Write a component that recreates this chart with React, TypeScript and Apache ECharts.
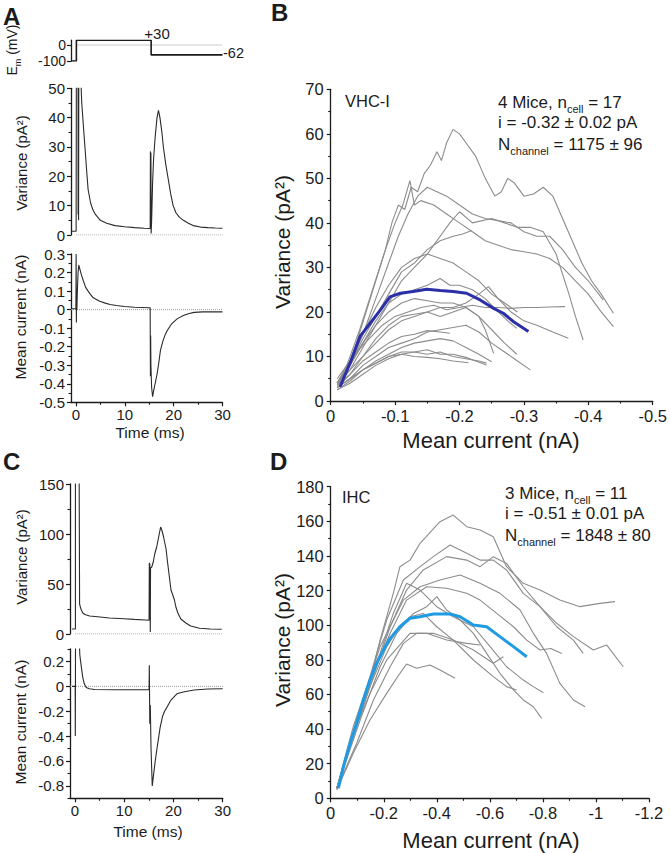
import React, { useEffect, useRef } from "react";
import * as echarts from "echarts";

const FONT = '"Liberation Sans", Arial, Helvetica, sans-serif';
const INK = "#1b1b1b";
const GREY = "#8c8c8c";

// ---------------- Panel A (VHC-I example cell) ----------------
const protocolA = [[-1, -100], [0.1, -100], [0.1, 30], [15.4, 30], [15.4, -62], [30, -62]];
const varianceA = [
  [-0.8, 1.3], [0.05, 1.3], [0.1, 1.5], [0.1, 60], [0.45, 60], [0.45, 7], [0.5, 20], [0.55, 5], [0.6, 60], [0.85, 60],
  [1.2, 45], [1.5, 38], [1.85, 30], [2.2, 22], [2.5, 15.5], [3, 11], [3.5, 8.5], [4, 7], [5, 5], [6.3, 4], [8, 3.2],
  [10, 2.8], [12, 2.5], [14, 2.3], [15.2, 2.2], [15.25, 28.5], [15.3, 24], [15.35, 28], [15.4, 0.5], [15.5, 5],
  [15.7, 18], [15.9, 26], [16.2, 33], [16.6, 40], [16.9, 42.5], [17.2, 40], [17.6, 35], [17.9, 30], [18.4, 24],
  [18.9, 19], [19.4, 14], [19.9, 10], [20.5, 7.5], [21.2, 6], [22, 5], [23, 4], [24, 3.2], [25.5, 2.7], [27, 2.5],
  [28.5, 2.4], [30, 2.3],
];
const currentA = [
  [-0.8, 0.005], [0, 0.005], [0.05, 0.3], [0.1, -0.07], [0.15, 0.1], [0.2, 0.0], [0.3, 0.1], [0.45, 0.2], [0.6, 0.24],
  [0.8, 0.22], [1.1, 0.19], [1.5, 0.157], [2, 0.12], [2.5, 0.1], [2.9, 0.085], [3.5, 0.065], [4.2, 0.055], [4.9, 0.045],
  [6, 0.035], [7, 0.028], [8.3, 0.022], [10, 0.017], [12, 0.013], [14.9, 0.01], [15.2, 0.01], [15.25, -0.36],
  [15.3, -0.14], [15.35, -0.3], [15.5, -0.42], [15.7, -0.47], [15.9, -0.44], [16.2, -0.4], [16.6, -0.35], [17, -0.28],
  [17.3, -0.22], [17.8, -0.17], [18.2, -0.14], [18.7, -0.113], [19.5, -0.08], [20.7, -0.05], [22, -0.032],
  [23, -0.022], [24.2, -0.015], [26, -0.012], [28, -0.012], [30, -0.012],
];

// ---------------- Panel C (IHC example cell) ----------------
const varianceC = [
  [-0.6, 5], [0.1, 5], [0.1, 170], [0.85, 170], [0.95, 30], [1.1, 27], [1.3, 24], [1.6, 21], [2, 19.5], [3, 18],
  [4.6, 17.3], [7, 16], [10, 15.2], [12, 14.6], [14.3, 14], [15.05, 13.8], [15.1, 71], [15.2, 70], [15.3, 2],
  [15.35, 66], [15.6, 67], [15.9, 72], [16.2, 80], [16.6, 87], [17, 97], [17.4, 107], [17.7, 103], [18, 97],
  [18.5, 85], [18.8, 72], [19.1, 60], [19.5, 44], [19.8, 40], [20.2, 34], [20.5, 27], [20.9, 21], [21.5, 15],
  [22.6, 10.7], [23.5, 8], [25.3, 5.7], [27.5, 5], [29.8, 4.7],
];
const currentC = [
  [-0.6, 0], [0.05, 0], [0.08, -0.4], [0.12, 0.35], [0.9, 0.35], [1.0, 0.25], [1.3, 0.156], [1.6, 0.07], [1.9, 0.02],
  [2.3, -0.01], [2.9, -0.02], [4, -0.025], [8.3, -0.028], [15.05, -0.028], [15.1, 0.17], [15.2, -0.3], [15.3, -0.15],
  [15.45, -0.5], [15.7, -0.8], [16, -0.7], [16.3, -0.6], [16.6, -0.516], [17, -0.41], [17.3, -0.33], [17.8, -0.24],
  [18.2, -0.2], [18.7, -0.167], [19.5, -0.11], [20.7, -0.06], [22, -0.045], [24.2, -0.03], [27, -0.022], [30, -0.02],
];

// ---------------- Panel B (VHC-I, variance vs mean current) ----------------
const b1 = [[-0.012,4],[-0.025,7],[-0.04,13],[-0.055,20],[-0.07,27],[-0.085,34],[-0.095,40],[-0.105,44],[-0.115,43],[-0.125,48],[-0.135,47],[-0.145,51],[-0.155,53],[-0.165,56],[-0.172,54],[-0.18,58],[-0.19,61],[-0.2,60],[-0.21,58],[-0.225,55],[-0.24,50],[-0.255,46],[-0.265,47],[-0.275,50],[-0.285,49],[-0.3,46],[-0.315,46.5],[-0.33,48],[-0.345,46],[-0.36,41],[-0.375,36],[-0.39,31],[-0.405,27],[-0.42,24],[-0.439,19.7]];
const b2 = [[-0.01,4],[-0.03,8],[-0.05,15],[-0.07,23],[-0.09,31],[-0.105,37],[-0.12,42],[-0.135,46],[-0.15,48],[-0.165,47],[-0.18,46],[-0.2,44],[-0.22,42],[-0.24,41],[-0.26,40.5],[-0.28,40],[-0.3,38],[-0.32,37],[-0.34,37],[-0.36,34],[-0.38,30],[-0.4,27],[-0.423,22.7]];
const b3 = [[-0.01,4],[-0.025,8],[-0.045,16],[-0.065,25],[-0.085,34],[-0.1,40],[-0.112,44],[-0.123,49.5],[-0.13,44],[-0.14,45],[-0.16,44],[-0.18,42],[-0.2,40],[-0.22,38],[-0.24,36],[-0.26,35],[-0.28,34],[-0.3,33.5],[-0.32,33],[-0.34,32],[-0.36,30],[-0.38,27],[-0.4,24],[-0.42,20],[-0.439,16.7]];
const b4 = [[-0.01,4],[-0.03,8],[-0.05,14],[-0.07,19],[-0.09,24],[-0.11,29],[-0.13,31],[-0.15,34],[-0.17,36],[-0.19,37],[-0.205,37.5],[-0.219,38.3]];
const b5 = [[-0.01,4],[-0.03,7],[-0.05,12],[-0.07,17],[-0.09,22],[-0.11,27],[-0.13,30],[-0.15,33],[-0.17,37],[-0.185,40],[-0.2,42.5],[-0.22,40],[-0.25,41],[-0.27,40],[-0.29,39],[-0.31,39],[-0.33,38],[-0.35,33],[-0.37,24],[-0.38,19],[-0.392,13.7]];
const b6 = [[-0.01,5],[-0.025,8],[-0.04,11],[-0.06,14],[-0.08,17],[-0.1,19],[-0.12,20],[-0.14,21],[-0.16,21.5],[-0.18,20.5],[-0.2,21],[-0.22,21.5],[-0.24,21],[-0.26,21],[-0.28,20.8],[-0.3,21],[-0.32,21],[-0.34,21.1],[-0.364,21.2]];
const b7 = [[-0.01,4],[-0.03,8],[-0.05,13],[-0.07,18],[-0.09,22],[-0.11,24],[-0.13,25],[-0.15,26],[-0.17,27.5],[-0.185,26],[-0.2,26],[-0.22,25],[-0.24,23],[-0.26,20],[-0.275,18],[-0.289,16.3]];
const b8 = [[-0.01,3.5],[-0.03,7],[-0.05,10],[-0.07,13],[-0.09,16],[-0.11,18],[-0.13,19],[-0.15,20],[-0.17,21],[-0.19,21],[-0.21,22],[-0.23,24],[-0.245,25.7],[-0.26,23],[-0.28,20],[-0.3,18],[-0.32,17],[-0.345,15.5],[-0.369,14.1]];
const b9 = [[-0.01,3.5],[-0.03,6],[-0.05,10],[-0.07,14],[-0.09,17],[-0.11,19],[-0.13,19.5],[-0.15,20],[-0.17,19],[-0.19,20],[-0.21,21],[-0.23,19],[-0.25,16],[-0.27,13],[-0.289,10.5]];
const b10 = [[-0.01,3],[-0.03,5],[-0.05,8],[-0.07,10],[-0.09,12],[-0.11,13],[-0.13,14],[-0.15,15.5],[-0.17,16],[-0.19,16.5],[-0.21,17],[-0.23,15.5],[-0.25,13],[-0.27,11],[-0.29,9],[-0.31,7]];
const b11 = [[-0.01,3],[-0.03,5],[-0.05,7],[-0.07,9],[-0.09,10.5],[-0.11,12],[-0.13,13],[-0.15,13.5],[-0.17,14],[-0.19,13.5],[-0.21,12],[-0.23,10.5],[-0.25,8.8]];
const b12 = [[-0.01,3],[-0.03,5],[-0.05,7],[-0.07,8.5],[-0.09,10],[-0.11,11],[-0.13,11],[-0.15,11.5],[-0.17,10.5],[-0.19,10.5],[-0.21,9.8],[-0.225,9],[-0.242,8.1]];
const b13 = [[-0.01,2.5],[-0.03,4.5],[-0.05,7],[-0.07,8.5],[-0.09,10],[-0.11,10.5],[-0.13,10],[-0.15,9.8],[-0.17,9.5],[-0.19,9],[-0.214,8.6]];
const b14 = [[-0.01,3],[-0.03,6],[-0.05,9],[-0.07,11],[-0.09,13],[-0.11,14.5],[-0.13,15],[-0.15,15.8],[-0.17,15.5],[-0.185,15.2]];
const b15 = [[-0.01,4],[-0.03,8],[-0.05,13],[-0.07,17],[-0.09,20],[-0.11,22],[-0.13,23],[-0.15,22.5],[-0.17,22],[-0.19,22],[-0.21,21],[-0.23,19],[-0.24,16],[-0.253,10.7]];
const b16 = [[-0.01,4],[-0.03,9],[-0.05,15],[-0.07,21],[-0.09,26],[-0.11,30],[-0.13,32],[-0.15,33],[-0.17,32],[-0.19,31],[-0.21,29],[-0.23,27],[-0.25,24],[-0.27,22],[-0.29,20]];
const b17 = [[-0.01,2.5],[-0.03,4],[-0.05,6],[-0.07,8],[-0.09,9.5],[-0.11,10.5],[-0.13,11],[-0.15,10.5],[-0.17,11],[-0.19,10],[-0.21,9.5],[-0.23,9],[-0.242,8.5]];
const bCells = [b1, b2, b3, b4, b5, b6, b7, b8, b9, b10, b11, b12, b13, b14, b15, b16, b17];
const bMean = [[-0.0145,3.2],[-0.03,8.5],[-0.0455,14.5],[-0.061,17.4],[-0.077,20.4],[-0.092,23.4],[-0.108,24.2],[-0.128,24.6],[-0.149,25.1],[-0.17,24.8],[-0.19,24.6],[-0.211,24.2],[-0.232,22.7],[-0.253,20.8],[-0.268,19.7],[-0.284,17.8],[-0.307,15.6]];

// ---------------- Panel D (IHC, variance vs mean current) ----------------
const d1 = [[-0.023,5.8],[-0.073,31.8],[-0.136,60.6],[-0.186,91.4],[-0.236,118.4],[-0.261,133.8],[-0.299,137.6],[-0.337,147.3],[-0.412,159.8],[-0.462,163.6],[-0.513,156.9],[-0.563,155],[-0.613,151.1],[-0.663,133.8],[-0.726,124.2],[-0.789,120.3],[-0.864,114.5],[-0.94,110.7],[-1.015,112.6],[-1.072,113.6]];
const d2 = [[-0.023,5.8],[-0.085,37.5],[-0.148,70.3],[-0.211,103],[-0.274,126.1],[-0.337,133.8],[-0.387,139.6],[-0.45,146.3],[-0.513,141.5],[-0.563,137.6],[-0.613,137.6],[-0.663,131.9],[-0.726,118.4],[-0.789,110.7],[-0.852,101.1],[-0.915,93.4],[-0.99,85.7],[-1.04,88.6],[-1.103,76]];
const d3 = [[-0.023,5.8],[-0.098,41.4],[-0.161,70.3],[-0.224,99.1],[-0.286,120.3],[-0.349,131.9],[-0.437,139.6],[-0.513,137.6],[-0.563,133.8],[-0.613,139.6],[-0.663,135.7],[-0.726,122.2],[-0.789,110.7],[-0.852,99.1],[-0.915,91.4],[-0.952,83.7]];
const d4 = [[-0.023,5.8],[-0.098,45.2],[-0.186,87.6],[-0.274,114.5],[-0.337,122.2],[-0.412,126.1],[-0.488,129],[-0.563,124.2],[-0.638,118.4],[-0.714,108.8],[-0.764,95.3],[-0.814,83.7],[-0.864,66.4],[-0.915,56.8],[-0.959,52.9]];
const d5 = [[-0.023,5.8],[-0.098,45.2],[-0.161,72.2],[-0.224,95.3],[-0.286,114.5],[-0.362,122.2],[-0.437,121.3],[-0.513,118.4],[-0.563,114.5],[-0.626,106.8],[-0.689,99.1],[-0.739,91.4],[-0.789,85.7],[-0.83,86.5],[-0.871,83.7]];
const d6 = [[-0.023,5.8],[-0.085,41.4],[-0.136,64.5],[-0.186,83.7],[-0.236,106.8],[-0.286,124.2],[-0.337,120.3],[-0.4,110.7],[-0.462,104.9],[-0.538,99.1],[-0.601,87.6],[-0.663,76],[-0.726,68.3],[-0.764,64.5],[-0.802,61]];
const d7 = [[-0.023,5.8],[-0.111,45.2],[-0.186,76],[-0.249,95.3],[-0.312,106.8],[-0.362,110.7],[-0.4,116.5],[-0.437,108.8],[-0.488,103],[-0.538,95.3],[-0.588,83.7],[-0.638,72.2],[-0.689,62.6],[-0.726,56.8],[-0.764,52.9],[-0.795,46.2]];
const d8 = [[-0.023,5.8],[-0.098,31.8],[-0.161,56.8],[-0.224,76],[-0.274,89.5],[-0.324,95.3],[-0.387,95.3],[-0.462,91.4],[-0.538,85.7],[-0.613,78],[-0.651,81.8]];
const d9 = [[-0.023,5.8],[-0.085,37.5],[-0.148,60.6],[-0.211,79.9],[-0.299,95.3],[-0.362,95.3],[-0.437,91.4],[-0.513,89.5],[-0.563,88.6]];
const d10 = [[-0.023,4.8],[-0.085,26],[-0.148,45.2],[-0.211,60.6],[-0.261,72.2],[-0.286,77.6],[-0.324,75.1],[-0.374,77],[-0.412,74.1],[-0.469,69.3]];
const d11 = [[-0.023,5.8],[-0.085,37.5],[-0.148,64.5],[-0.211,87.6],[-0.261,99.1],[-0.299,104.9],[-0.349,106.8],[-0.4,99.1],[-0.462,91.4],[-0.538,79.9],[-0.613,70.3],[-0.663,64.5],[-0.701,62.6]];
const dCells = [d1, d2, d3, d4, d5, d6, d7, d8, d9, d10, d11];
const dMean = [[-0.029,5.8],[-0.048,18.3],[-0.073,31.8],[-0.098,43.3],[-0.123,56.8],[-0.148,68.3],[-0.173,78],[-0.199,85.7],[-0.224,92.4],[-0.261,99.1],[-0.299,104],[-0.337,104.9],[-0.387,106.5],[-0.45,106.5],[-0.488,104.9],[-0.538,100.1],[-0.588,99.1],[-0.638,93.4],[-0.689,87.6],[-0.739,81.8]];

// ---------------- tick values ----------------
const timeTicks = [0, 10, 20, 30];
const timeMinor = [5, 15, 25];
const protoTicks = [-100, 0];
const varTicksA = [0, 10, 20, 30, 40, 50];
const varMinorA = [5, 15, 25, 35, 45];
const curTicksA = [-0.5, -0.4, -0.3, -0.2, -0.1, 0, 0.1, 0.2, 0.3];
const curMinorA = [-0.45, -0.35, -0.25, -0.15, -0.05, 0.05, 0.15, 0.25];
const varTicksC = [0, 50, 100, 150];
const varMinorC = [25, 75, 125];
const curTicksC = [-0.8, -0.6, -0.4, -0.2, 0, 0.2];
const curMinorC = [-0.9, -0.7, -0.5, -0.3, -0.1, 0.1, 0.3];
const bXTicks = [0, -0.1, -0.2, -0.3, -0.4, -0.5];
const bXMinor = [-0.05, -0.15, -0.25, -0.35, -0.45];
const bYTicks = [0, 10, 20, 30, 40, 50, 60, 70];
const bYMinor = [5, 15, 25, 35, 45, 55, 65];
const dXTicks = [0, -0.2, -0.4, -0.6, -0.8, -1, -1.2];
const dXMinor = [-0.1, -0.3, -0.5, -0.7, -0.9, -1.1];
const dYTicks = [0, 20, 40, 60, 80, 100, 120, 140, 160, 180];
const dYMinor = [10, 30, 50, 70, 90, 110, 130, 150, 170];

function buildOption() {
  const grids = [
    { left: 71, top: 40.2, width: 151.5, height: 20.8 }, // 0 A protocol
    { left: 71, top: 88.3, width: 151.5, height: 146.7 }, // 1 A variance
    { left: 71, top: 254, width: 151.5, height: 148.3 }, // 2 A current
    { left: 330.7, top: 89.3, width: 322, height: 311.7 }, // 3 B
    { left: 70, top: 484, width: 152.7, height: 150 }, // 4 C variance
    { left: 70, top: 649, width: 152.7, height: 149.3 }, // 5 C current
    { left: 330.7, top: 486.7, width: 318.3, height: 311.6 }, // 6 D
  ].map((g) => ({ ...g, containLabel: false, outerBoundsMode: "none" }));

  const xAxes: any[] = [];
  const yAxes: any[] = [];
  const axisLineStyle = { color: INK, width: 1.3 };

  function addAxis(list: any[], grid: number, min: number, max: number, majors: number[] | null, minors: number[] | null, o: any) {
    const idx = list.length;
    list.push({
      type: "value",
      gridIndex: grid,
      min,
      max,
      inverse: !!o.inverse,
      position: o.position,
      offset: 0,
      show: majors !== null,
      axisLine: { show: true, onZero: false, lineStyle: axisLineStyle },
      axisTick: { show: true, customValues: majors || [], length: 4, lineStyle: { color: INK, width: 1.2 } },
      axisLabel: {
        show: true,
        customValues: majors || [],
        margin: o.margin ?? 6,
        fontSize: o.fontSize,
        fontFamily: FONT,
        color: INK,
        formatter: (v: number) => String(v),
      },
      splitLine: { show: false },
    });
    if (minors) {
      list.push({
        type: "value",
        gridIndex: grid,
        min,
        max,
        inverse: !!o.inverse,
        position: o.position,
        offset: 0,
        axisLine: { show: false, onZero: false },
        axisTick: { show: true, customValues: minors, length: 2.5, lineStyle: { color: INK, width: 1.1 } },
        axisLabel: { show: false },
        splitLine: { show: false },
      });
    }
    return idx;
  }

  const fsA = 15;
  const fsB = 16.5;
  // x axes
  const xAV = addAxis(xAxes, 0, -1, 30, null, null, { position: "bottom" });
  const xAVar = addAxis(xAxes, 1, -1, 30, null, null, { position: "bottom" });
  const xAI = addAxis(xAxes, 2, -1, 30, timeTicks, timeMinor, { position: "bottom", fontSize: fsA, margin: 5 });
  const xB = addAxis(xAxes, 3, -0.5, 0, bXTicks, bXMinor, { position: "bottom", fontSize: fsB, inverse: true, margin: 6 });
  const xCVar = addAxis(xAxes, 4, -1, 30, null, null, { position: "bottom" });
  const xCI = addAxis(xAxes, 5, -1, 30, timeTicks, timeMinor, { position: "bottom", fontSize: fsA, margin: 5 });
  const xD = addAxis(xAxes, 6, -1.2, 0, dXTicks, dXMinor, { position: "bottom", fontSize: fsB, inverse: true, margin: 6 });
  // y axes
  const yAV = addAxis(yAxes, 0, -100, 30, protoTicks, null, { position: "left", fontSize: 14, margin: 5 });
  const yAVar = addAxis(yAxes, 1, 0, 50, varTicksA, varMinorA, { position: "left", fontSize: fsA, margin: 6 });
  const yAI = addAxis(yAxes, 2, -0.5, 0.3, curTicksA, curMinorA, { position: "left", fontSize: fsA, margin: 6 });
  const yB = addAxis(yAxes, 3, 0, 70, bYTicks, bYMinor, { position: "left", fontSize: fsB, margin: 7 });
  const yCVar = addAxis(yAxes, 4, 0, 150, varTicksC, varMinorC, { position: "left", fontSize: fsA, margin: 6 });
  const yCI = addAxis(yAxes, 5, -0.9, 0.3, curTicksC, curMinorC, { position: "left", fontSize: fsA, margin: 6 });
  const yD = addAxis(yAxes, 6, 0, 180, dYTicks, dYMinor, { position: "left", fontSize: fsB, margin: 7 });

  const line = (xi: number, yi: number, data: number[][], color: string, width: number, type: string = "solid", z = 2) => ({
    type: "line",
    xAxisIndex: xi,
    yAxisIndex: yi,
    data,
    showSymbol: false,
    symbol: "none",
    clip: true,
    silent: true,
    z,
    lineStyle: { color, width, type },
  });

  const dotted = "#9a9a9a";
  const series: any[] = [
    line(xAV, yAV, [[0.1, 0], [30, 0]], dotted, 1, "dotted"),
    line(xAV, yAV, protocolA, INK, 1.6),
    line(xAVar, yAVar, [[0, 0], [30, 0]], dotted, 1, "dotted"),
    line(xAVar, yAVar, varianceA, "#2a2a2a", 1.1),
    line(xAI, yAI, [[-1, 0], [30, 0]], dotted, 1, "dotted"),
    line(xAI, yAI, currentA, "#2a2a2a", 1.1),
    line(xCVar, yCVar, [[0, 0], [30, 0]], dotted, 1, "dotted"),
    line(xCVar, yCVar, varianceC, "#2a2a2a", 1.1),
    line(xCI, yCI, [[-1, 0], [30, 0]], dotted, 1, "dotted"),
    line(xCI, yCI, currentC, "#2a2a2a", 1.1),
    ...bCells.map((c) => line(xB, yB, c, GREY, 1.1)),
    line(xB, yB, bMean, "#2b2fa8", 3, "solid", 5),
    ...dCells.map((c) => line(xD, yD, c, GREY, 1.1)),
    line(xD, yD, dMean, "#1f9be3", 3, "solid", 5),
  ];

  const txt = (x: number, y: number, text: string, size: number, o: any = {}) => ({
    type: "text",
    x,
    y,
    rotation: o.rotation || 0,
    silent: true,
    style: {
      text,
      fill: INK,
      fontSize: size,
      fontFamily: FONT,
      fontWeight: o.bold ? "bold" : "normal",
      textAlign: o.align || "center",
      textVerticalAlign: "middle",
      rich: o.rich,
    },
  });
  const sub = (size: number, subSize: number) => ({
    a: { fontSize: size, fontFamily: FONT, fill: INK, color: INK, lineHeight: size + 7, verticalAlign: "middle" },
    s: { fontSize: subSize, fontFamily: FONT, fill: INK, color: INK, lineHeight: subSize, verticalAlign: "bottom" },
  });
  const R = Math.PI / 2;
  const annSize = 17;

  const graphic: any[] = [
    txt(3, 16, "A", 24, { bold: true, align: "left" }),
    txt(271, 12.5, "B", 24, { bold: true, align: "left" }),
    txt(3, 461.5, "C", 24, { bold: true, align: "left" }),
    txt(270, 461.5, "D", 24, { bold: true, align: "left" }),
    // panel A labels
    txt(12, 50, "{a|E}{s|m}{a| (mV)}", 14, { rotation: R, rich: sub(14, 9) }),
    txt(157, 33, "+30", 15),
    txt(223, 52.5, "-62", 14.5, { align: "left" }),
    txt(21, 163, "Variance (pA²)", 15, { rotation: R }),
    txt(20, 317, "Mean current (nA)", 15.5, { rotation: R }),
    txt(150, 432, "Time (ms)", 15.5),
    // panel C labels
    txt(21, 557, "Variance (pA²)", 15, { rotation: R }),
    txt(20, 722, "Mean current (nA)", 15.5, { rotation: R }),
    txt(148, 831, "Time (ms)", 15.5),
    // panel B labels
    txt(282, 242, "Variance (pA²)", 21, { rotation: R }),
    txt(491, 440, "Mean current (nA)", 22),
    txt(345, 101, "VHC-I", 16.5, { align: "left" }),
    txt(498, 102, "{a|4 Mice, n}{s|cell}{a| = 17}", annSize, { align: "left", rich: sub(annSize, 11) }),
    txt(498, 122.5, "i = -0.32 ± 0.02 pA", annSize, { align: "left" }),
    txt(498, 144, "{a|N}{s|channel}{a| = 1175 ± 96}", annSize, { align: "left", rich: sub(annSize, 11) }),
    // panel D labels
    txt(282, 640, "Variance (pA²)", 21, { rotation: R }),
    txt(491, 840, "Mean current (nA)", 22),
    txt(342, 497, "IHC", 16.5, { align: "left" }),
    txt(505, 493, "{a|3 Mice, n}{s|cell}{a| = 11}", annSize, { align: "left", rich: sub(annSize, 11) }),
    txt(505, 513.5, "i = -0.51 ± 0.01 pA", annSize, { align: "left" }),
    txt(505, 535, "{a|N}{s|channel}{a| = 1848 ± 80}", annSize, { align: "left", rich: sub(annSize, 11) }),
  ];

  return {
    animation: false,
    backgroundColor: "#ffffff",
    textStyle: { fontFamily: FONT },
    grid: grids,
    xAxis: xAxes,
    yAxis: yAxes,
    series,
    graphic,
  };
}

export default function App() {
  const ref = useRef<HTMLDivElement | null>(null);
  useEffect(() => {
    document.body.style.margin = "0";
    if (!ref.current) return;
    const chart = echarts.init(ref.current, undefined, { renderer: "svg" });
    chart.setOption(buildOption() as any);
    return () => chart.dispose();
  }, []);
  return <div ref={ref} style={{ width: 670, height: 853 }} />;
}
